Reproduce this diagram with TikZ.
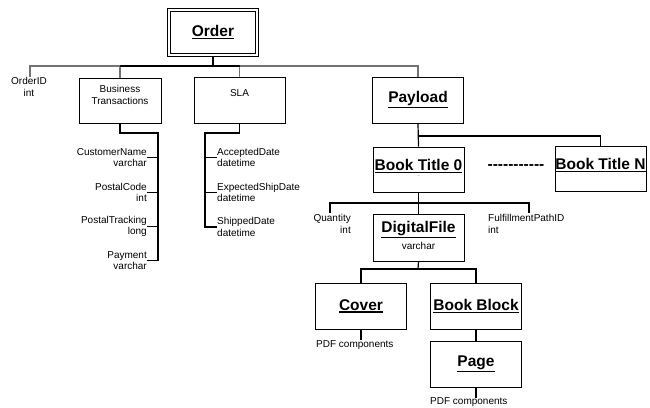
\documentclass[tikz,border=0pt]{standalone}
\usepackage{fontspec}
\setmainfont{Liberation Sans}
\newcommand\thul[1]{\leavevmode\vtop{\hbox{#1}\kern1.1pt\hrule height 1.3pt}}
\tikzset{
  box/.style={draw, line width=0.8pt, minimum width=91pt, minimum height=46pt, inner sep=0pt},
  conn/.style={line width=1.2pt, draw=black},
  gconn/.style={line width=1.2pt, draw=black!55},
  ttl/.style={font=\fontsize{15.5}{18}\selectfont\bfseries},
  attr/.style={font=\fontsize{10}{11.6}\selectfont, inner sep=0pt},
}
\begin{document}
\begin{tikzpicture}[x=1pt,y=-1pt]
\useasboundingbox (0,0) rectangle (650,407);
% boxes
\node[draw, double, double distance=2.2pt, line width=0.8pt, minimum width=88.2pt, minimum height=45.2pt, inner sep=0pt, ttl] (order) at (213,32.5) {\thul{Order}};
\node[box, minimum width=82pt, minimum height=45pt] (bt) at (120,100.5) {};
\node[attr, align=center] (btlabel) at (120,95) {Business\\Transactions};
\node[box] (sla) at (239.5,100.5) {};
\node[attr] (slalabel) at (239.5,93) {SLA};
\node[box, ttl] (payload) at (418,100) {\thul{Payload}};
\node[box, minimum height=45pt] (bt0) at (418.5,169.5) {};
\node[ttl] (bt0label) at (418.5,166) {\thul{Book Title 0}};
\node[font=\tiny, text=black!50] (bt0mark) at (418.5,177) {\textasciitilde};
\node[box, minimum height=45pt] (btn) at (600.5,168.5) {};
\node[ttl] (btnlabel) at (600.5,165) {\thul{Book Title N}};
\node[ttl] (dots) at (516,167) {-{}-{}-{}-{}-{}-{}-{}-{}-{}-{}-{}};
\node[box, minimum height=47pt, align=center] (df) at (418.5,237.5) {};
\node[ttl] (dflabel) at (418.5,230) {\thul{DigitalFile}};
\node[attr] (dftype) at (418.5,246) {varchar};
\node[box, ttl] (cover) at (361,306) {\thul{Cover}};
\node[box, ttl] (bb) at (476,306) {\thul{Book Block}};
\node[box, ttl] (page) at (476,364) {\thul{Page}};
% top bus
\coordinate (bus) at (213,66);
\node[attr, anchor=north, align=center] (oid) at (29,77.5) {OrderID\\int};
\coordinate (oidtop) at (30,77);
\draw[gconn] (oidtop) |- (bus);
\draw[gconn] (payload.north) |- (bus);
\draw[gconn] (bt.north) -- (bt.north |- bus);
\draw[gconn] (sla.north) -- (sla.north |- bus);
\draw[conn] (bt.north |- bus) -- (sla.north |- bus);
\draw[conn, line width=1.6pt] (order.south) -- (bus);
% business transactions attributes
\coordinate (btj) at (158,133);
\node[attr, anchor=east, align=right] (cn) at (147,157.5) {CustomerName\\varchar};
\node[attr, anchor=east, align=right] (pc) at (147,192.5) {PostalCode\\int};
\node[attr, anchor=east, align=right] (pt) at (147,226.5) {PostalTracking\\long};
\node[attr, anchor=east, align=right] (pm) at (147,260.5) {Payment\\varchar};
\draw[conn] (bt.south) |- (btj) -- (btj |- pm.east) -- (pm.east);
\draw[conn] (cn.east) -- (cn.east -| btj);
\draw[conn] (pc.east) -- (pc.east -| btj);
\draw[conn] (pt.east) -- (pt.east -| btj);
% SLA attributes
\coordinate (slaj) at (205,133);
\node[attr, anchor=west, align=left] (ad) at (217,157.5) {AcceptedDate\\datetime};
\node[attr, anchor=west, align=left] (ed) at (217,192.5) {ExpectedShipDate\\datetime};
\node[attr, anchor=west, align=left] (sd) at (217,227) {ShippedDate\\datetime};
\draw[conn] (sla.south) |- (slaj) -- (slaj |- sd.west) -- (sd.west);
\draw[conn] (ad.west) -- (ad.west -| slaj);
\draw[conn] (ed.west) -- (ed.west -| slaj);
% payload
\coordinate (pj) at (418,136);
\draw[conn] (payload.south) -- (bt0.north);
\draw[conn] (pj) -| (btn.north);
% book title 0 attributes
\coordinate (dj) at (418,203);
\coordinate (qtop) at (330,213);
\coordinate (fptop) at (529,213);
\node[attr, anchor=north east, align=right] (qty) at (351,214) {Quantity\\int};
\node[attr, anchor=north west, align=left] (fp) at (488,214) {FulfillmentPathID\\int};
\draw[conn] (bt0.south) -- (df.north);
\draw[conn] (qtop) |- (dj) -| (fptop);
% digital file children
\coordinate (cj) at (418,269);
\draw[conn] (df.south) -- (cj);
\draw[conn] (cover.north) |- (cj) -| (bb.north);
\coordinate (cvend) at (361,340);
\draw[conn] (cover.south) -- (cvend);
\node[attr, anchor=north west] (cvpdf) at (316,340.5) {PDF components};
\draw[conn] (bb.south) -- (page.north);
\coordinate (pgend) at (476,398);
\draw[conn] (page.south) -- (pgend);
\node[attr, anchor=north west] (pgpdf) at (430,397.5) {PDF components};
\end{tikzpicture}
\end{document}
